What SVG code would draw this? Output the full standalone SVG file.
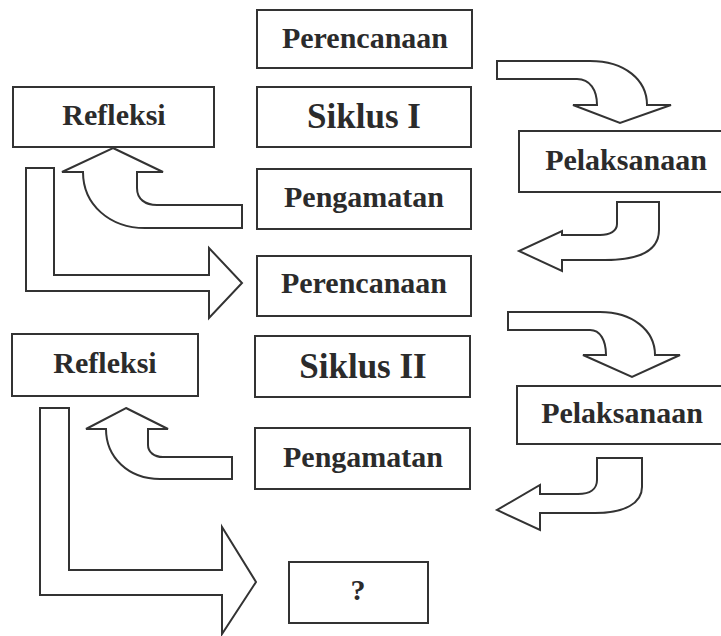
<svg xmlns="http://www.w3.org/2000/svg" width="721" height="636" viewBox="0 0 721 636">
<style>
.box{fill:#fff;stroke:#333;stroke-width:2}
.arr{fill:#fff;stroke:#333;stroke-width:2;stroke-linejoin:miter}
text{font-family:'Liberation Serif','DejaVu Serif',serif;font-weight:bold;fill:#2b2b2b;text-anchor:middle;font-size:30px}
.big{font-size:35px}
.q{font-size:30px}
</style>
<rect width="721" height="636" fill="#fff"/>
<g id="connectors">
<path class="arr" d="M497,61 L590,61 C625,61 647,80 647,105 L671,105 L620,123 L573,105 L597,105 C597,90 590,79 577,79 L497,79 Z"/>
<path class="arr" d="M617,202 L659,202 L659,230 C659,250 640,260 605,260 L562,260 L562,271 L519,251 L562,231 L562,235 L600,235 C610,235 617,231 617,224 Z"/>
<path class="arr" d="M113,148 L163,172 L137,172 L137,188 C137,199 145,205 157,205 L242,205 L242,228 L145,228 C110,228 83,205 83,172 L62,172 Z"/>
<path class="arr" d="M26,168 L54,168 L54,275 L209,275 L209,248 L242,283 L209,318 L209,291 L26,291 Z"/>
<path class="arr" d="M508,312 L600,312 C632,312 655,330 655,355 L680,355 L632,377 L583,355 L606,355 C606,340 600,330 590,330 L508,330 Z"/>
<path class="arr" d="M597,458 L642,458 L642,487 C642,503 625,513 595,513 L540,513 L540,530 L497,510 L540,485 L540,494 L578,494 C590,494 597,489 597,480 Z"/>
<path class="arr" d="M126,408 L168,429 L148,429 L148,445 C148,452 154,457 163,457 L232,457 L232,479 L160,479 C128,479 106,457 106,429 L86,429 Z"/>
<path class="arr" d="M40,408 L69,408 L69,570 L222,570 L222,527 L256,582 L222,634 L222,595 L40,595 Z"/>
</g>
<g font-family="Liberation Serif, serif">
<g id="perencanaan1"><rect class="box" x="257" y="10" width="215" height="58"/><text x="365" y="48">Perencanaan</text></g>
<g id="siklus1"><rect class="box" x="257" y="87" width="214" height="60"/><text class="big" x="364" y="128">Siklus I</text></g>
<g id="pengamatan1"><rect class="box" x="257" y="169" width="214" height="60"/><text x="364" y="207">Pengamatan</text></g>
<g id="perencanaan2"><rect class="box" x="257" y="256" width="214" height="60"/><text x="364" y="293">Perencanaan</text></g>
<g id="refleksi1"><rect class="box" x="13" y="87" width="201" height="60"/><text x="114" y="125">Refleksi</text></g>
<g id="pelaksanaan1"><rect class="box" x="519" y="131" width="203" height="61"/><text x="626" y="170">Pelaksanaan</text></g>
<g id="siklus2"><rect class="box" x="255" y="336" width="215" height="61"/><text class="big" x="363" y="378">Siklus II</text></g>
<g id="pengamatan2"><rect class="box" x="255" y="428" width="215" height="61"/><text x="363" y="467">Pengamatan</text></g>
<g id="refleksi2"><rect class="box" x="12" y="334" width="186" height="62"/><text x="105" y="373">Refleksi</text></g>
<g id="pelaksanaan2"><rect class="box" x="517" y="386" width="205" height="58"/><text x="622" y="423">Pelaksanaan</text></g>
<g id="next"><rect class="box" x="289" y="562" width="139" height="61"/><text class="q" x="358" y="600">?</text></g>
</g>
</svg>
